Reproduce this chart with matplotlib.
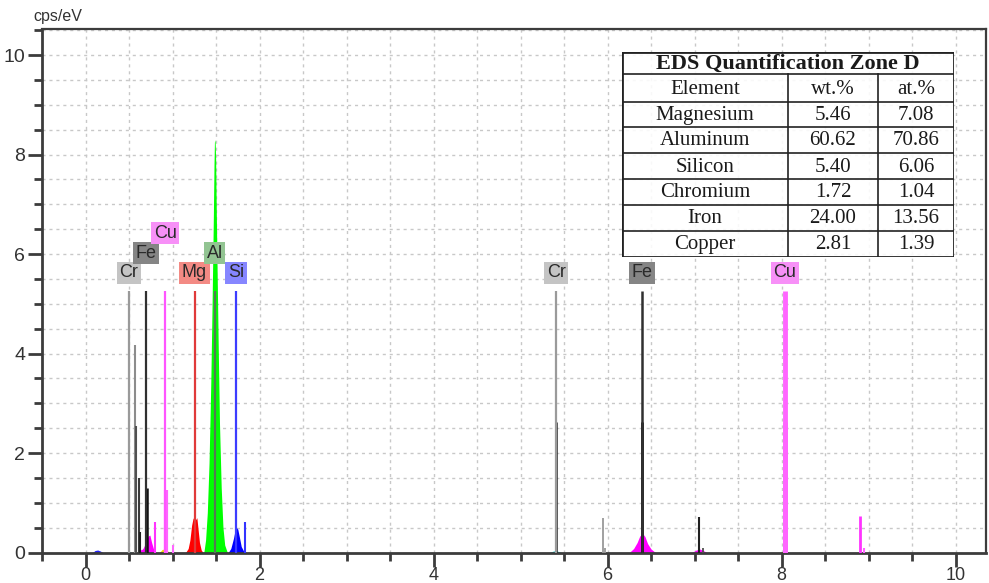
#!/usr/bin/env python
# -*- coding: utf-8 -*-

"""
EDS spectrum of zone D with element markers and the quantification table.
"""

import numpy as np
import matplotlib
matplotlib.use("Agg")
import matplotlib.pyplot as plt
from matplotlib.ticker import MultipleLocator

plt.rcParams['font.family'] = ['Liberation Sans', 'DejaVu Sans']

# Element marker lines (keV) and their label boxes.
marker_names = ['Cr', 'Fe', 'Cu', 'Mg', 'Al', 'Si', 'Cr', 'Fe', 'Cu']
marker_energy = [0.50, 0.69, 0.915, 1.253, 1.486, 1.73, 5.41, 6.40, 8.04]
marker_height = [5.25, 5.25, 5.25, 5.25, 5.25, 5.25, 5.25, 5.25, 5.25]
marker_level = [5.62, 6.02, 6.42, 5.62, 6.02, 5.62, 5.62, 5.62, 5.62]
marker_line_col = ['#9a9a9a', '#303030', '#ff55ff', '#e03a3a', '#557755',
                   '#3c3cff', '#9a9a9a', '#303030', '#ff66ff']
marker_line_w = [1.6, 1.6, 1.6, 1.6, 1.6, 1.6, 1.6, 1.8, 3.5]
marker_box_col = ['#c4c4c4', '#858585', '#f790f7', '#f38a84', '#92c492',
                  '#8686ff', '#c4c4c4', '#858585', '#f790f7']

# Narrow spectral lines: energy (keV), height (cps/eV), colour.
line_energy = [0.50, 0.565, 0.575, 0.61, 0.63, 0.705, 0.80, 0.93, 1.00,
               1.83, 5.41, 5.95, 5.97, 6.40, 7.05, 7.10, 8.04, 8.90, 8.95]
line_height = [0.17, 4.17, 2.54, 1.50, 0.42, 1.29, 0.62, 1.26, 0.15,
               0.62, 2.63, 0.69, 0.10, 2.63, 0.72, 0.10, 2.63, 0.73, 0.10]
line_color = ['#606060', '#8c8c8c', '#505050', '#3a3a3a', '#202020', '#101010',
              '#ff33ff', '#ff66ff', '#ff66ff', '#3333ff', '#202020', '#999999',
              '#999999', '#101010', '#202020', '#505050', '#ff55ff', '#ff33ff',
              '#ff66ff']
line_width = [1.2, 1.5, 1.5, 1.5, 1.5, 1.8, 1.5, 3.0, 1.5,
              1.5, 1.8, 1.3, 1.3, 2.0, 1.5, 1.3, 3.5, 2.0, 1.5]

# Fitted peak envelopes read as (energy, cps/eV) points.
c_e = [0.08, 0.11, 0.14, 0.17, 0.20]
c_c = [0.0, 0.04, 0.05, 0.03, 0.0]
crl_e = [0.47, 0.50, 0.53]
crl_c = [0.0, 0.02, 0.0]
fel_e = [0.60, 0.62, 0.64, 0.66, 0.68, 0.70, 0.72, 0.74, 0.76, 0.78, 0.80]
fel_c = [0.0, 0.10, 0.05, 0.08, 0.15, 0.24, 0.33, 0.35, 0.20, 0.08, 0.0]
cul_e = [0.85, 0.88, 0.91, 0.94, 0.96]
cul_c = [0.0, 0.06, 0.07, 0.04, 0.0]
mg_e = [1.15, 1.18, 1.20, 1.22, 1.235, 1.25, 1.265, 1.28, 1.295, 1.31, 1.33, 1.35]
mg_c = [0.0, 0.08, 0.25, 0.55, 0.68, 0.72, 0.66, 0.70, 0.45, 0.20, 0.05, 0.0]
al_e = [1.36, 1.38, 1.40, 1.42, 1.44, 1.455, 1.47, 1.477, 1.482, 1.486, 1.490,
        1.496, 1.50, 1.51, 1.525, 1.54, 1.56, 1.58, 1.60, 1.63]
al_c = [0.0, 0.25, 0.8, 1.8, 3.4, 5.0, 6.8, 7.8, 8.25, 8.3, 8.25,
        7.9, 7.3, 6.0, 4.2, 2.6, 1.3, 0.5, 0.15, 0.0]
si_e = [1.64, 1.67, 1.70, 1.72, 1.735, 1.75, 1.77, 1.79, 1.82, 1.85]
si_c = [0.0, 0.08, 0.28, 0.45, 0.50, 0.47, 0.30, 0.12, 0.02, 0.0]
crk_e = [5.33, 5.38, 5.42, 5.47]
crk_c = [0.0, 0.03, 0.03, 0.0]
fek_e = [6.25, 6.30, 6.34, 6.37, 6.40, 6.43, 6.46, 6.50, 6.55]
fek_c = [0.0, 0.08, 0.20, 0.33, 0.39, 0.32, 0.18, 0.07, 0.0]
fekb_e = [6.97, 7.02, 7.06, 7.10, 7.14]
fekb_c = [0.0, 0.05, 0.07, 0.04, 0.0]
cuk_e = [7.98, 8.01, 8.04, 8.07]
cuk_c = [0.0, 0.02, 0.02, 0.0]

peaks = [(c_e, c_c, '#2020ff'), (crl_e, crl_c, '#00d0d0'),
         (fel_e, fel_c, '#ff00ff'), (cul_e, cul_c, '#f0e000'),
         (mg_e, mg_c, '#ff0000'), (al_e, al_c, '#00ff00'),
         (si_e, si_c, '#0000ff'), (crk_e, crk_c, '#00d0d0'),
         (fek_e, fek_c, '#ff00ff'), (fekb_e, fekb_c, '#ff00ff'),
         (cuk_e, cuk_c, '#f0e000')]

# Quantification table.
tbl_title = 'EDS Quantification Zone D'
tbl_header = ['Element', 'wt.%', 'at.%']
tbl_elements = ['Magnesium', 'Aluminum', 'Silicon', 'Chromium', 'Iron', 'Copper']
tbl_wt = ['5.46', '60.62', '5.40', '1.72', '24.00', '2.81']
tbl_at = ['7.08', '70.86', '6.06', '1.04', '13.56', '1.39']

W, H = 989, 583
fig = plt.figure(figsize=(W / 100., H / 100.), dpi=100, facecolor='w')
ax = fig.add_axes([42. / W, 1 - 552.5 / H, 944. / W, 523.2 / H])

ax.set_xlim(-0.5, 10.35)
ax.set_ylim(0, 10.52)

ax.xaxis.set_major_locator(MultipleLocator(2))
ax.xaxis.set_minor_locator(MultipleLocator(0.5))
ax.yaxis.set_major_locator(MultipleLocator(2))
ax.yaxis.set_minor_locator(MultipleLocator(0.5))

# Dotted grid every half unit.
ax.grid(True, which='both', color='#c8c8c8', linestyle=(0, (2.2, 2.8)),
        linewidth=1.0, zorder=0)
ax.set_axisbelow(True)

for s in ['left', 'bottom']:
    ax.spines[s].set_linewidth(2.0)
    ax.spines[s].set_color('#3c3c3c')
for s in ['top', 'right']:
    ax.spines[s].set_linewidth(1.6)
    ax.spines[s].set_color('#3c3c3c')

ax.tick_params(which='major', length=10, width=2, color='#3c3c3c',
               labelsize=14, labelcolor='#333333', pad=2)
ax.tick_params(axis='x', which='major', labelsize=13, pad=0.5)
ax.tick_params(which='minor', length=6, width=2, color='#3c3c3c')

# Peak envelopes.
for e, c, col in peaks:
    ax.fill_between(e, c, 0, color=col, linewidth=0, zorder=2)

# Narrow lines.
ax.vlines(line_energy, 0, line_height, colors=line_color,
          linewidths=line_width, zorder=3)

# Element markers and labels.
ax.vlines(marker_energy, 0, marker_height, colors=marker_line_col,
          linewidths=marker_line_w, zorder=4)
for name, e, y, fc in zip(marker_names, marker_energy, marker_level, marker_box_col):
    ax.text(e, y, name, ha='center', va='center', fontsize=13,
            color='#2a2a2a', zorder=5,
            bbox=dict(boxstyle='square,pad=0.14', fc=fc, ec='none'))

fig.text(33. / W, 1 - 17. / H, 'cps/eV', ha='left', va='center',
         fontsize=11.5, color='#333333')

# Table drawn in its own pixel-based axes.
tx0, ty0, tx1, ty1 = 622., 51.7, 954., 256.7
tax = fig.add_axes([tx0 / W, 1 - ty1 / H, (tx1 - tx0) / W, (ty1 - ty0) / H])
tax.set_xlim(tx0, tx1)
tax.set_ylim(ty1, ty0)
tax.axis('off')
tax.add_patch(plt.Rectangle((tx0, ty0), tx1 - tx0, ty1 - ty0, fc='w',
                            alpha=0.88, ec='none'))
col_edges = [tx0, 788., 878., tx1]
row_edges = [ty0, 74.3, 101.7, 126.7, 153., 179., 204.7, 230.7, ty1]

for y in row_edges[1:-1]:
    tax.plot([tx0, tx1], [y, y], color='#222222', lw=1.2)
for x in col_edges[1:-1]:
    tax.plot([x, x], [row_edges[1], ty1], color='#222222', lw=1.2)
tax.plot([tx0, tx1, tx1, tx0, tx0], [ty0, ty0, ty1, ty1, ty0],
         color='#222222', lw=2.0, solid_joinstyle='miter')

serif = ['Liberation Serif', 'DejaVu Serif']
tax.text((tx0 + tx1) / 2, (row_edges[0] + row_edges[1]) / 2 + 1, tbl_title,
         ha='center', va='center', fontsize=16, fontweight='bold',
         family=serif, color='#1a1a1a')
rows = [tbl_header] + [list(r) for r in zip(tbl_elements, tbl_wt, tbl_at)]
for i, row in enumerate(rows):
    yc = (row_edges[i + 1] + row_edges[i + 2]) / 2 + 1
    for j, txt in enumerate(row):
        xc = (col_edges[j] + col_edges[j + 1]) / 2
        tax.text(xc, yc, txt, ha='center', va='center', fontsize=15,
                 family=serif, color='#1a1a1a')

fig.savefig('out.png', dpi=100)
